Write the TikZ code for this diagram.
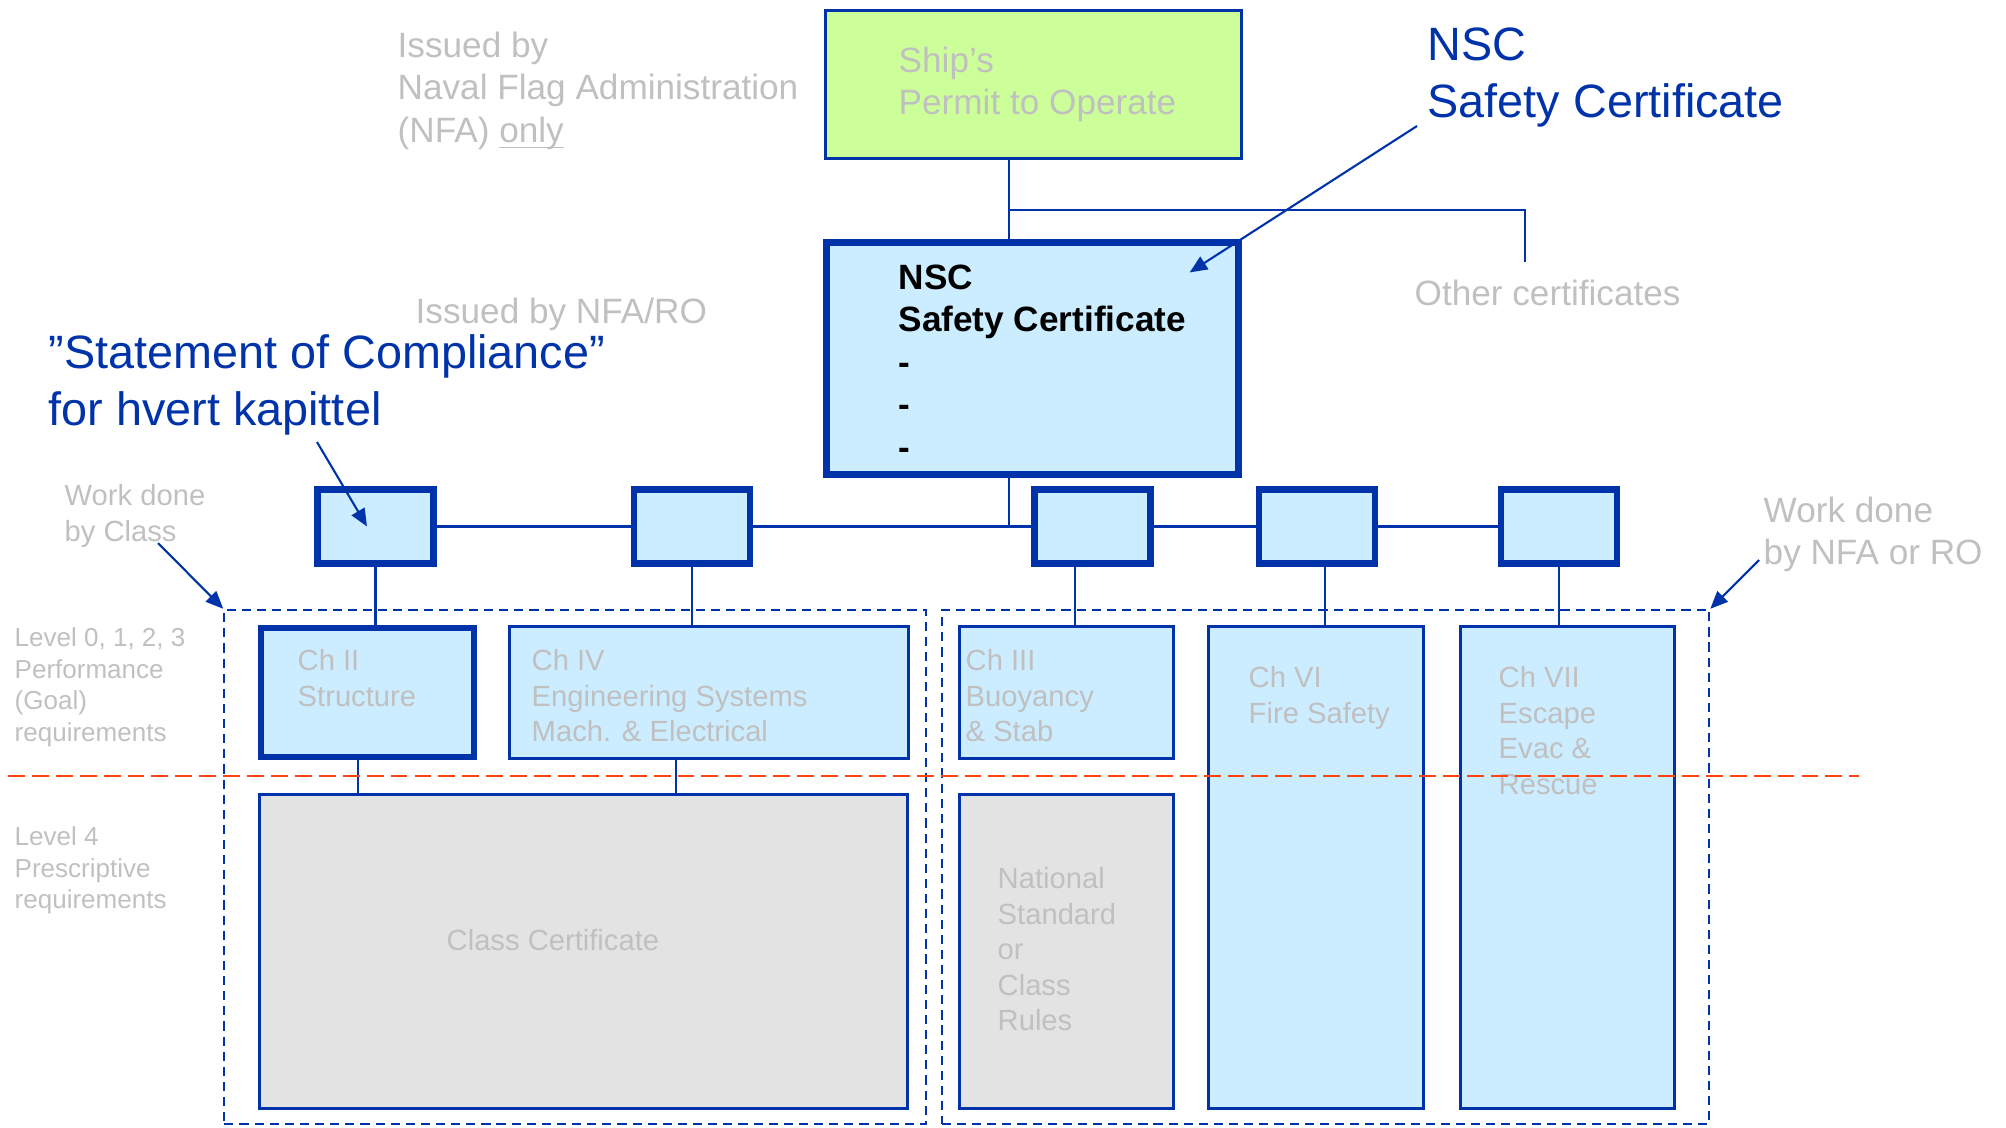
\documentclass[tikz,border=0pt]{standalone}
\usepackage{fontspec}
\setmainfont{Liberation Sans}
\usetikzlibrary{positioning}
\usetikzlibrary{arrows.meta}
\definecolor{nscblue}{RGB}{0,51,170}
\definecolor{boxfill}{RGB}{204,236,255}
\definecolor{permitfill}{RGB}{204,255,153}
\definecolor{rulefill}{RGB}{227,227,227}
\definecolor{greytxt}{RGB}{192,192,192}
\definecolor{levelline}{RGB}{255,68,17}
\tikzstyle{smallbox}=[rectangle,draw=nscblue,fill=boxfill,line width=1.9pt,minimum width=1.16cm,minimum height=0.74cm,inner sep=0pt]
\tikzstyle{chapbox}=[rectangle,draw=nscblue,fill=boxfill,line width=0.85pt,inner sep=0pt]
\tikzstyle{rulebox}=[chapbox,fill=rulefill]
\tikzstyle{workarea}=[rectangle,draw=nscblue,line width=0.6pt,dash pattern=on 2.6pt off 1.7pt,inner sep=0pt]
\tikzstyle{link}=[draw=nscblue,line width=0.6pt]
\tikzstyle{pointer}=[draw=nscblue,line width=0.6pt,-{Triangle[length=5pt,width=4.2pt]}]
\tikzstyle{greynote}=[text=greytxt,inner sep=0pt,anchor=north west,align=left,font=\fontsize{10}{12.1}\selectfont]
\tikzstyle{chaptext}=[greynote,font=\fontsize{8.3}{10.1}\selectfont]
\tikzstyle{leveltext}=[greynote,font=\fontsize{7.4}{9}\selectfont]
\tikzstyle{callout}=[greynote,text=nscblue,font=\fontsize{13.3}{16.2}\selectfont]

\begin{document}
\begin{tikzpicture}[x=0.01cm,y=-0.01cm]
   \useasboundingbox (0,0) rectangle (2006,1127);

   \node[workarea,minimum width=7.01cm,minimum height=5.14cm] (classarea) at (575,867) {};
   \node[workarea,minimum width=7.67cm,minimum height=5.14cm] (nfaarea) at (1325.5,867) {};

   \node[chapbox,fill=permitfill,minimum width=4.15cm,minimum height=1.47cm] (permit) at (1033.5,84.5) {};
   \node[chapbox,line width=2pt,minimum width=4.12cm,minimum height=2.32cm] (nsc) at (1032.5,358.5) {};
   \node[greynote] (permittxt) at (898,46) {Ship’s\\Permit to Operate};
   \node[greynote,text=black,font=\bfseries\fontsize{10}{12.1}\selectfont] (nsctxt) at (898,264) {NSC\\Safety Certificate\\-\\-\\-};

    \foreach \name/\x in {b1/375.5, b2/692, b3/1092.5, b4/1317, b5/1559}
        \node[smallbox] (\name) at (\x,526.5) {};

   \node[chapbox,line width=1.9pt,minimum width=2.13cm,minimum height=1.29cm] (ch2) at (367.5,692.5) {};
   \node[chapbox,minimum width=3.99cm,minimum height=1.32cm] (ch4) at (709,692.5) {};
   \node[chapbox,minimum width=2.14cm,minimum height=1.32cm] (ch3) at (1066.5,692.5) {};
   \node[chapbox,minimum width=2.15cm,minimum height=4.82cm] (ch6) at (1316,867.5) {};
   \node[chapbox,minimum width=2.14cm,minimum height=4.82cm] (ch7) at (1567.5,867.5) {};
   \node[rulebox,minimum width=6.48cm,minimum height=3.14cm] (classcert) at (583.5,951.5) {};
   \node[rulebox,minimum width=2.14cm,minimum height=3.14cm] (natstd) at (1066.5,951.5) {};

   \coordinate (tap) at (1009,210);
   \coordinate (other) at (1525,262);
   \draw[link] (permit.south -| tap) -- (nsc.north -| tap);
   \draw[link] (tap) -| (other);
   \draw[link] (nsc.south -| tap) -- (tap |- b3);

    \foreach \source/\dest in {b1/b2, b2/b3, b3/b4, b4/b5}
        \path[link] (\source) -- (\dest);

    \foreach \source/\dest/\dx in {b1/ch2/0, b2/ch4/0, b3/ch3/-0.175, b4/ch6/0.08, b5/ch7/0}
        \draw[link] ([xshift=\dx cm]\source.south) -- ([xshift=\dx cm]\source.south |- \dest.north);

    \foreach \source/\dx in {ch2/-0.095, ch4/-0.33}
        \draw[link] ([xshift=\dx cm]\source.south) -- ([xshift=\dx cm]\source.south |- classcert.north);

   \node[chaptext] (ch2txt) at (297,649) {Ch II\\Structure};
   \node[chaptext] (ch4txt) at (531,649) {Ch IV\\Engineering Systems\\Mach. \& Electrical};
   \node[chaptext] (ch3txt) at (965,649) {Ch III\\Buoyancy\\\& Stab};
   \node[chaptext] (ch6txt) at (1248,666) {Ch VI\\Fire Safety};
   \node[chaptext] (ch7txt) at (1498,666) {Ch VII\\Escape\\Evac \&\\Rescue};
   \node[chaptext] (natstdtxt) at (997,867) {National\\Standard\\or\\Class\\Rules};
   \node[chaptext,anchor=west] (classtxt) at (446,940) {Class Certificate};

   \node[greynote] (nfaonly) at (397,31) {Issued by\\Naval Flag Administration\\(NFA) \underline{\smash{only}}};
   \node[greynote] (nfaro) at (415,297) {Issued by NFA/RO};
   \node[greynote] (othertxt) at (1414,279) {Other certificates};
   \node[chaptext] (byclass) at (64,484) {Work done\\by Class};
   \node[greynote] (bynfa) at (1763,496) {Work done\\by NFA or RO};
   \node[leveltext] (goal) at (14,627) {Level 0, 1, 2, 3\\Performance\\(Goal)\\requirements};
   \node[leveltext] (prescr) at (14,826) {Level 4\\Prescriptive\\requirements};

   \node[callout] (soc) at (48,334) {”Statement of Compliance”\\for hvert kapittel};
   \node[callout] (nsclabel) at (1427,27) {NSC\\Safety Certificate};

   \coordinate (soctail) at (317,442);
   \coordinate (nsctail) at (1417,126);
   \coordinate (classtail) at (158,543);
   \coordinate (nfatail) at (1759,560);
   \draw[pointer] (soctail) -- ([xshift=-0.085cm]b1.center);
   \draw[pointer] (nsctail) -- ([xshift=-0.525cm,yshift=-0.335cm]nsc.north east);
   \draw[pointer] (classtail) -- (classarea.north west);
   \draw[pointer] (nfatail) -- (nfaarea.north east);

   \draw[levelline,line width=0.7pt,dash pattern=on 4.8pt off 2pt] (8,776) -- (1859,776);
\end{tikzpicture}
\end{document}
